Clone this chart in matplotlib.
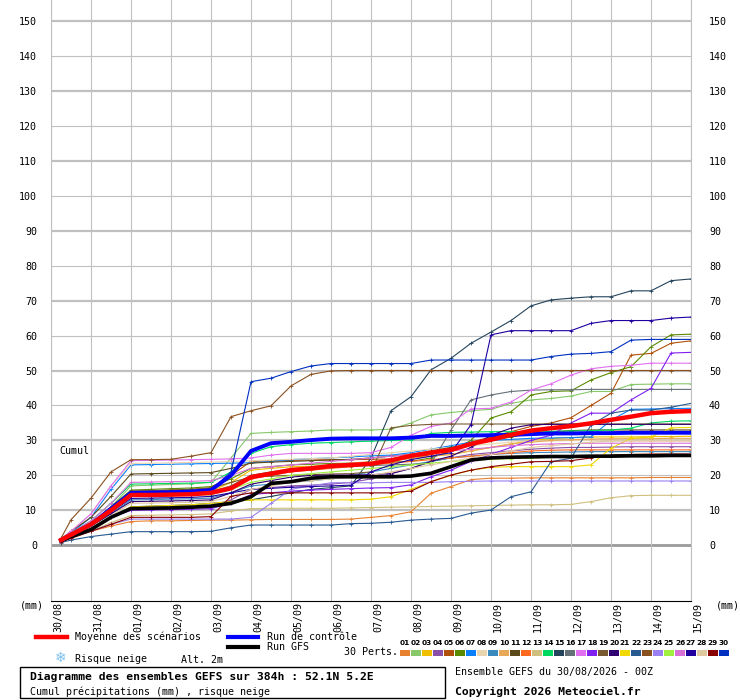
import matplotlib
matplotlib.use("Agg")
import matplotlib.pyplot as plt
from matplotlib.lines import Line2D
from matplotlib.patches import Rectangle
from matplotlib.transforms import ScaledTranslation

# echeances (heures depuis le 30/08 00Z)
hours = [6, 12] + list(range(24, 385, 12))
day_hours = list(range(0, 385, 24))
day_labels = ["30/08", "31/08", "01/09", "02/09", "03/09", "04/09", "05/09", "06/09", "07/09",
              "08/09", "09/09", "10/09", "11/09", "12/09", "13/09", "14/09", "15/09"]
y_ticks = list(range(0, 151, 10))

# cumul precipitations (mm)
mean_cum = [1.5, 3, 6, 10, 14.4, 14.4, 14.5, 14.6, 15, 16.3, 19.5, 20.5, 21.5, 22, 22.7, 23, 23.3,
            24.3, 25.6, 26.5, 27.3, 29, 30.2, 31.6, 32.8, 33.5, 34.1, 34.9, 35.9, 36.8, 37.8, 38.2, 38.4]
control_cum = [1.5, 3, 6, 10.5, 15, 15.1, 15.2, 15.4, 15.8, 20, 27, 29.2, 29.6, 30.1, 30.5, 30.6, 30.6,
               30.6, 30.8, 31.3, 31.3, 31.4, 31.5, 31.6, 31.8, 32, 32, 32.1, 32.1, 32.2, 32.2, 32.2, 32.2]
gfs_cum = [1.3, 2.5, 4.5, 8, 10.5, 10.6, 10.7, 10.9, 11.2, 12, 13.9, 17.7, 18.2, 19.2, 19.6, 19.6, 19.6,
           19.6, 19.8, 20.6, 22.5, 24.4, 25, 25.2, 25.3, 25.4, 25.4, 25.5, 25.5, 25.6, 25.6, 25.7, 25.7]

p01 = [1.5, 2.5, 4, 5.5, 6.8, 7, 7, 7.1, 7.2, 7.2, 7.3, 7.4, 7.4, 7.4, 7.4, 7.5, 8,
       8.5, 9.6, 14.9, 16.8, 18.8, 19.2, 19.2, 19.3, 19.3, 19.3, 19.3, 19.3, 19.3, 19.4, 19.4, 19.4]
p02 = [1.5, 3, 6, 11, 17, 17.2, 17.4, 17.6, 18, 25, 32, 32.3, 32.5, 32.7, 33, 33, 33,
       33.2, 35, 37.3, 38, 38.5, 38.9, 40.6, 41.6, 42, 42.7, 44, 44, 46, 46.1, 46.2, 46.2]
p03 = [1.5, 3, 5.5, 10, 14.5, 14.6, 14.8, 15, 15.5, 18, 21.5, 22, 22.5, 22.6, 22.8, 23, 23.5,
       24, 25, 25.5, 26, 27, 28, 29, 30, 30.5, 30.8, 31, 31, 31, 31.1, 31.1, 31.2]
p04 = [1.2, 2.5, 5, 8, 10.5, 10.6, 10.7, 10.8, 11, 13, 16, 16.5, 17, 17.2, 17.5, 18, 19,
       20.5, 22, 24, 25, 26, 26.5, 27, 27.5, 27.8, 28, 28, 28.1, 28.2, 28.2, 28.2, 28.2]
p05 = [1.5, 3, 6, 11, 15.5, 15.6, 15.8, 16, 16.5, 20, 24, 24.2, 24.3, 24.4, 24.5, 24.5, 24.6,
       24.7, 24.8, 26, 27.5, 29.5, 31, 32.5, 34, 35, 36.5, 40, 43.5, 54.4, 54.9, 57.8, 58.5]
p06 = [1.5, 3, 6, 11, 15.8, 16, 16.2, 16.4, 16.8, 19, 22, 22.5, 23, 23.2, 23.4, 23.5, 23.6,
       23.8, 24, 25, 27, 30, 36.4, 38.2, 43, 44, 44.2, 47.3, 49.4, 51.1, 56.8, 60.2, 60.4]
p07 = [1.5, 3.5, 8, 16, 23, 23.1, 23.2, 23.3, 23.4, 23.5, 23.6, 24, 24.5, 24.8, 25, 25.3, 25.6,
       25.8, 26.5, 27.5, 28.5, 29.5, 30, 30.3, 30.6, 30.7, 30.8, 31, 35.8, 38.9, 39, 39.1, 39.2]
p08 = [1.8, 4, 9, 17, 23.4, 23.5, 23.6, 23.7, 23.8, 24, 24.2, 24.4, 24.6, 24.8, 25, 25.5, 26,
       26.5, 27, 27.5, 28, 28.5, 29, 29.5, 29.8, 29.9, 30, 30, 30.1, 30.1, 30.1, 30.1, 30.1]
p09 = [1.3, 2.8, 5.5, 9, 13, 13.1, 13.2, 13.3, 13.5, 15, 17, 17.5, 18, 18.5, 19, 20, 21,
       22, 23, 24, 25, 25.5, 26, 26.3, 26.5, 26.6, 26.7, 26.8, 26.8, 26.8, 26.8, 26.8, 26.8]
p10 = [1.5, 3, 6, 10, 15, 15.1, 15.2, 15.3, 15.5, 17, 20, 21, 22, 22.5, 23, 23.5, 24,
       24.5, 25, 25.5, 26, 27, 28, 29, 29.5, 30, 30.2, 30.4, 30.5, 30.5, 30.5, 30.6, 30.6]
p11 = [1.8, 4, 8, 14, 20.4, 20.5, 20.6, 20.7, 20.8, 22, 23.5, 23.8, 24, 24.2, 24.4, 24.6, 25,
       25.5, 26, 27, 28, 29, 30, 31, 32, 32.5, 32.8, 33, 33, 33, 33, 33, 33]
p12 = [1.5, 3, 6, 10, 14, 14.2, 14.4, 14.6, 15, 17, 19, 20, 21, 21.5, 22, 22.5, 23,
       23.5, 24, 24.5, 25, 25.5, 26, 26.5, 27, 27.2, 27.3, 27.3, 27.3, 27.3, 27.3, 27.3, 27.3]
p13 = [1, 2, 4, 6.5, 8.5, 8.6, 8.7, 8.8, 9, 9.8, 10.5, 10.6, 10.6, 10.6, 10.6, 10.7, 10.8,
       10.9, 11, 11.1, 11.2, 11.3, 11.4, 11.5, 11.6, 11.6, 11.7, 12.5, 13.6, 14.2, 14.3, 14.3, 14.3]
p14 = [1.6, 3.5, 7, 12, 17.5, 17.6, 17.7, 17.8, 18, 21, 26.3, 28.2, 28.8, 29.2, 29.4, 29.6, 29.8,
       30, 30.1, 32, 32.3, 32.4, 32.5, 32.5, 32.6, 32.6, 32.7, 32.8, 33, 33.5, 35, 35.5, 35.6]
p15 = [1.3, 2.6, 5, 8, 11, 11.2, 11.4, 11.6, 12, 12.5, 13, 14, 15, 16, 16.5, 17, 25,
       38.5, 42.5, 50.2, 53.5, 57.8, 61, 64.3, 68.5, 70.2, 70.7, 71.1, 71.1, 72.8, 72.8, 75.7, 76.2]
p16 = [1.5, 3, 6, 10, 14.5, 14.6, 14.7, 14.8, 15, 17, 20, 21, 21.5, 22, 22.3, 22.6, 22.8,
       23, 23.2, 23.4, 33, 41.6, 43, 44, 44.4, 44.5, 44.5, 44.6, 44.6, 44.6, 44.6, 44.6, 44.6]
p17 = [1.8, 4, 9, 17, 24.2, 24.3, 24.4, 24.5, 24.6, 24.7, 25, 25.8, 26.3, 26.3, 26.3, 26.3, 26.5,
       28, 31.5, 34, 35, 39, 39.2, 41, 44.4, 46.2, 48.7, 50.5, 51.2, 51.5, 52.1, 52.1, 52.1]
p18 = [1.3, 2.6, 5, 8, 10, 10.1, 10.2, 10.3, 10.5, 12, 14.5, 15, 15.5, 15.8, 16, 16.2, 16.4,
       16.5, 17.3, 19.6, 21.5, 24, 26, 28, 30, 31.5, 35, 37.8, 37.8, 41.6, 44.9, 55, 55.2]
p19 = [1.5, 3, 6, 10.5, 15.5, 15.6, 15.8, 16, 16.3, 18, 19.5, 19.8, 20, 20.2, 20.4, 20.5, 21,
       33.6, 34.3, 34.6, 34.7, 34.7, 34.7, 34.7, 34.7, 34.7, 34.7, 34.7, 34.7, 34.7, 34.7, 34.7, 34.7]
p20 = [1.4, 2.8, 5.5, 9, 12.5, 12.6, 12.7, 12.8, 13, 15, 17.5, 18.5, 19.5, 20, 20.1, 20.1, 20.2,
       20.5, 22, 24, 25.5, 28, 31.5, 33.5, 34.5, 34.6, 34.6, 34.6, 34.6, 34.6, 34.6, 34.6, 34.6]
p21 = [1.2, 2.5, 5, 8, 11, 11.2, 11.4, 11.6, 12, 12.5, 13, 13, 13, 13, 13, 13, 13.2,
       13.9, 16, 18.2, 20, 21.5, 22.3, 22.5, 22.5, 22.5, 22.5, 23, 27.8, 30.6, 31, 33.6, 33.7]
p22 = [0.8, 1.5, 2.5, 3.2, 3.9, 3.9, 3.9, 3.9, 4, 5, 5.8, 5.8, 5.8, 5.8, 5.8, 6.2, 6.3,
       6.6, 7.2, 7.5, 7.7, 9.2, 10.1, 13.9, 15.3, 23.9, 24.9, 34.4, 37.8, 38.7, 38.7, 39.5, 40.6]
p23 = [2, 7.3, 13.5, 21, 24.5, 24.5, 24.6, 25.5, 26.5, 36.8, 38.5, 39.9, 45.6, 48.9, 49.9, 50, 50,
       50, 50, 50, 50, 50, 50, 50, 50, 50, 50, 50, 50, 50, 50, 50, 50]
p24 = [1.2, 2.2, 4, 6, 7.5, 7.5, 7.5, 7.5, 7.5, 7.5, 8, 12, 16, 17, 17.9, 17.9, 17.9,
       18, 18, 18, 18.2, 18.3, 18.4, 18.4, 18.4, 18.4, 18.4, 18.4, 18.4, 18.4, 18.4, 18.4, 18.4]
p25 = [1.4, 3, 6, 10, 14, 14.1, 14.2, 14.3, 14.5, 16, 18, 19, 20, 20.5, 21, 21.5, 22,
       22.5, 23, 23.5, 24, 24.3, 24.6, 24.8, 25, 25.2, 25.3, 25.5, 25.8, 26, 26, 26, 26]
p26 = [1.6, 3.5, 7, 12, 18, 18.1, 18.2, 18.3, 18.5, 20, 22, 22.5, 23, 23.5, 24, 24.5, 25,
       25.5, 26, 26.5, 27, 27.5, 28, 28.5, 28.8, 29, 29.1, 29.2, 29.2, 29.2, 29.2, 29.2, 29.2]
p27 = [1.4, 2.8, 5.5, 9.5, 13.4, 13.5, 13.6, 13.7, 14, 15, 16, 16.3, 16.6, 16.8, 17, 17.2, 21,
       23, 24.5, 25.5, 26.5, 34.5, 60.2, 61.4, 61.4, 61.4, 61.4, 63.5, 64.3, 64.3, 64.3, 65, 65.3]
p28 = [1.3, 2.6, 5, 8.5, 12, 12.1, 12.2, 12.3, 12.5, 14, 16, 17, 18, 18.5, 19, 19.5, 20,
       21, 22, 23, 24, 25, 26, 27, 28, 28.5, 29, 29.5, 29.8, 29.8, 29.8, 29.8, 29.8]
p29 = [1, 2, 4, 6, 8, 8, 8, 8, 8.2, 14, 15, 15, 15, 15, 15, 15, 15,
       15, 15.5, 18.2, 20.1, 21.5, 22.5, 23.2, 23.9, 24, 24.2, 25, 25.8, 26, 26.1, 26.1, 26.1]
p30 = [1.5, 3, 6, 10.5, 15, 15.1, 15.2, 15.3, 15.8, 21, 46.8, 47.8, 49.7, 51.3, 52, 52, 52,
       52, 52, 53, 53, 53, 53, 53, 53, 54, 54.7, 54.9, 55.4, 58.7, 58.9, 58.9, 58.9]

perts = [p01, p02, p03, p04, p05, p06, p07, p08, p09, p10, p11, p12, p13, p14, p15,
         p16, p17, p18, p19, p20, p21, p22, p23, p24, p25, p26, p27, p28, p29, p30]
pert_colors = ["#E8812F", "#86C86A", "#F0C000", "#8A4FA8", "#B0500A", "#5A8A00", "#0A80FF",
               "#E8D5B0", "#3A8ABF", "#E8A85A", "#5C4A1A", "#FF6A20", "#D0C080", "#00D860",
               "#24445C", "#667077", "#E070F0", "#7F20F0", "#7A5A30", "#300070", "#F0D800",
               "#285A90", "#8A5020", "#9A80F0", "#A0F040", "#D870D8", "#2000A0", "#E0C8A0",
               "#880000", "#0030C0"]

plt.rcParams['font.family'] = ['DejaVu Sans Mono', 'DejaVu Sans']
W, H = 740, 700
FS = 7.2


def px(x, y):
    # pixel (depuis le haut a gauche) -> fraction figure
    return x / W, 1 - y / H


fig = plt.figure(figsize=(W / 100, H / 100), dpi=100)
ax = fig.add_axes([51 / W, 1 - 600.7 / H, 640 / W, 600.7 / H])
ax.set_xlim(0, 384)
ax.set_ylim(-15.85, 156.0)

# grille
ax.set_xticks(day_hours)
ax.grid(axis='x', color='#C0C0C0', lw=0.8, zorder=0)
for v in y_ticks[1:]:
    ax.axhline(v, color='#C0C0C0', lw=1.6 if (v // 10) % 2 else 0.8, zorder=0)
ax.axhline(0, color='#9A9A9A', lw=2.0, zorder=1)

for vals, c in zip(perts, pert_colors):
    ax.plot(hours, vals, color=c, lw=0.8, marker='+', ms=3, mew=0.6, zorder=2)
ax.plot(hours, gfs_cum, color='black', lw=2.6, zorder=3)
ax.plot(hours, control_cum, color='#0000FF', lw=2.8, zorder=4)
ax.plot(hours, mean_cum, color='#FF0000', lw=3.2, zorder=5)

ax.spines['top'].set_visible(False)
ax.spines['left'].set_color('#C0C0C0')
ax.spines['right'].set_color('#C0C0C0')
ax.spines['bottom'].set_color('black')
ax.spines['bottom'].set_linewidth(0.8)

ax.set_xticklabels(day_labels, rotation=90, fontsize=FS)
ax.tick_params(axis='x', length=0, pad=1)
for lab in ax.get_xticklabels():
    lab.set_transform(lab.get_transform() + ScaledTranslation(7 / 100, 0, fig.dpi_scale_trans))

ax.set_yticks(y_ticks)
ax.tick_params(axis='y', length=0, pad=10, labelsize=FS)
ax2 = ax.twinx()
ax2.set_ylim(ax.get_ylim())
ax2.set_yticks(y_ticks)
ax2.tick_params(axis='y', length=0, pad=13, labelsize=FS)
for s in ax2.spines.values():
    s.set_visible(False)

fig.text(*px(59, 451), "Cumul", fontsize=FS, va='center')
fig.text(*px(20, 606), "(mm)", fontsize=FS, va='center')
fig.text(*px(716, 606), "(mm)", fontsize=FS, va='center')

# legende
def leg_line(x0, x1, y, color, lw):
    (a, b), (c, d) = px(x0, y), px(x1, y)
    fig.add_artist(Line2D([a, c], [b, d], color=color, lw=lw, transform=fig.transFigure))

leg_line(36, 67, 637, '#FF0000', 3.2)
fig.text(*px(75, 637), "Moyenne des scénarios", fontsize=FS, va='center')
leg_line(228, 258, 637, '#0000FF', 3.0)
fig.text(*px(267, 637), "Run de contrôle", fontsize=FS, va='center')
leg_line(228, 258, 647, 'black', 3.0)
fig.text(*px(267, 647), "Run GFS", fontsize=FS, va='center')
fig.text(*px(61, 658), "\u2744", family='DejaVu Sans', fontsize=10, color='#7DC0EE',
         ha='center', va='center')
fig.text(*px(75, 659), "Risque neige", fontsize=FS, va='center')
fig.text(*px(181, 660), "Alt. 2m", fontsize=FS, va='center')
fig.text(*px(344, 652), "30 Perts.", fontsize=FS, va='center')

for i, c in enumerate(pert_colors):
    x0 = 400 + 11 * i
    fig.add_artist(Rectangle(px(x0, 656), 10 / W, 6 / H, transform=fig.transFigure,
                             color=c, lw=0))
    fig.text(*px(x0 + 5, 643), "%02d" % (i + 1), family='DejaVu Sans', fontsize=5.3,
             fontweight='bold', ha='center', va='center')

fig.add_artist(Rectangle(px(20, 698), 425 / W, 31 / H, transform=fig.transFigure,
                         fill=False, ec='black', lw=1))
fig.text(*px(30, 677), "Diagramme des ensembles GEFS sur 384h : 52.1N 5.2E",
         fontsize=8.2, fontweight='bold', va='center')
fig.text(*px(30, 692), "Cumul précipitations (mm) , risque neige", fontsize=FS, va='center')
fig.text(*px(455, 672), "Ensemble GEFS du 30/08/2026 - 00Z", fontsize=FS, va='center')
fig.text(*px(455, 692), "Copyright 2026 Meteociel.fr", fontsize=8.2, fontweight='bold',
         va='center')

fig.savefig("out.png", dpi=100)
